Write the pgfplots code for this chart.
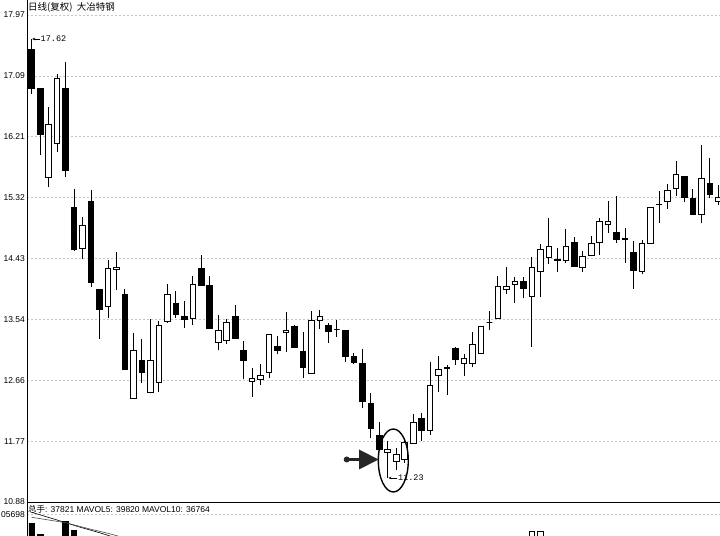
\documentclass[border=0pt]{standalone}
\usepackage{pgfplots}
\pgfplotsset{compat=1.18}
\usepackage{pgfplotstable}
\usepackage{fontspec}
\setmainfont{Liberation Sans}
\newfontfamily\cjk{Noto Sans CJK SC}
\newfontfamily\mono{Liberation Mono}
\usetikzlibrary{arrows.meta}
\pgfdeclareplotmark{nothing}{}
\pgfplotsset{
  candle/.style={
    scatter, only marks, mark=nothing, clip marker paths=true,
    visualization depends on={\thisrow{h}-\thisrow{o} \as \candH},
    visualization depends on={\thisrow{l}-\thisrow{o} \as \candL},
    visualization depends on={\thisrow{c}-\thisrow{o} \as \candC},
    scatter/@pre marker code/.code={%
      \draw[black, line width=0.9bp] (axis direction cs:0,\candL) -- (axis direction cs:0,\candH);
      \filldraw[fill=#1, draw=black, line width=0.9bp] (axis direction cs:-0.33,0) rectangle (axis direction cs:0.33,\candC);
    },
    scatter/@post marker code/.code={},
  },
}
% bearish (black) candles: index open high low close
\pgfplotstableread{
i o h l c
1 17.47 17.62 16.82 16.905
2 16.895 16.895 15.93 16.225
5 16.905 17.285 15.607 15.704
6 15.17 15.437 14.537 14.561
8 15.252 15.427 14.017 14.075
9 13.978 13.978 13.258 13.676
12 13.895 13.978 12.81 12.81
14 12.947 13.258 12.606 12.772
18 13.773 13.953 13.564 13.613
19 13.588 13.807 13.418 13.54
21 14.279 14.474 14.026 14.026
22 14.036 14.172 13.409 13.409
25 13.574 13.744 13.263 13.263
26 13.093 13.224 12.665 12.947
30 13.151 13.297 13.03 13.093
32 13.433 13.452 13.137 13.137
33 13.068 13.355 12.68 12.845
36 13.443 13.491 13.2 13.36
37 13.394 13.53 13.287 13.394
38 13.38 13.38 12.917 12.995
39 13.005 13.044 12.883 12.908
40 12.898 13.102 12.251 12.339
41 12.315 12.46 11.814 11.95
42 11.848 12.047 11.643 11.643
47 12.1 12.169 11.77 11.916
50 12.84 12.874 12.436 12.83
51 13.122 13.132 12.874 12.961
55 13.496 13.666 13.389 13.496
59 14.094 14.153 13.846 13.992
63 14.41 14.581 14.226 14.395
65 14.663 14.741 14.313 14.313
70 14.81 15.335 14.654 14.702
71 14.717 14.873 14.362 14.698
72 14.508 14.678 13.983 14.25
75 15.213 15.408 14.946 15.213
78 15.626 15.626 15.247 15.31
79 15.296 15.432 15.067 15.067
81 15.515 15.884 15.31 15.359
}\bear
% bullish (white) candles
\pgfplotstableread{
i o h l c
3 15.607 16.63 15.46 16.375
4 16.093 17.114 15.97 17.05
7 14.571 15.023 14.415 14.902
10 13.72 14.401 13.564 14.279
11 14.27 14.52 13.97 14.295
13 12.382 13.345 12.382 13.093
15 12.48 13.55 12.46 12.947
16 12.616 13.515 12.48 13.443
17 13.501 14.06 13.49 13.905
20 13.55 14.163 13.453 14.046
23 13.209 13.603 13.088 13.38
24 13.234 13.55 13.175 13.5
27 12.63 12.835 12.412 12.679
28 12.665 12.893 12.577 12.723
29 12.772 13.321 12.689 13.316
31 13.345 13.652 13.068 13.38
34 12.747 13.662 12.747 13.53
35 13.525 13.672 13.394 13.574
43 11.598 11.763 11.23 11.646
44 11.472 11.667 11.342 11.574
45 11.497 11.777 11.453 11.743
46 11.731 12.159 11.731 12.037
48 11.916 12.922 11.853 12.572
49 12.718 13.0 12.475 12.806
52 12.903 13.034 12.709 12.971
53 12.903 13.35 12.84 13.17
54 13.044 13.448 13.044 13.438
56 13.555 14.167 13.555 14.017
57 13.973 14.299 13.91 14.017
58 14.046 14.153 13.778 14.09
60 13.871 14.445 13.141 14.3
61 14.24 14.64 13.86 14.556
62 14.435 15.018 14.338 14.605
64 14.396 14.848 14.362 14.605
66 14.289 14.532 14.231 14.45
67 14.469 14.751 14.459 14.644
68 14.654 15.018 14.474 14.96
69 14.921 15.262 14.8 14.97
73 14.24 14.688 14.192 14.639
74 14.639 15.179 14.639 15.164
76 15.252 15.515 15.15 15.417
77 15.442 15.845 15.335 15.651
80 15.067 16.074 14.936 15.587
82 15.262 15.49 15.198 15.31
}\bull
\begin{document}
\begin{tikzpicture}[x=1bp,y=1bp]
\useasboundingbox (0,0) rectangle (720,536);
\begin{axis}[
  at={(27bp,34bp)}, anchor=south west,
  width=693bp, height=502bp, scale only axis,
  xmin=0.4456, xmax=82.196, ymin=10.88, ymax=18.188,
  axis x line*=bottom, axis y line*=left,
  axis line style={line width=0.8bp, black},
  xtick=\empty,
  ytick={10.88,11.76625,12.6525,13.53875,14.425,15.31125,16.1975,17.08375,17.97},
  yticklabels={10.88,11.77,12.66,13.54,14.43,15.32,16.21,17.09,17.97},
  major tick length=0pt,
  yticklabel style={font=\fontsize{8.5bp}{10bp}\selectfont, anchor=east, inner sep=0pt, xshift=-2bp},
  ymajorgrids, grid style={gray!45, line width=0.6bp, dash pattern=on 2bp off 2bp},
  clip marker paths=true,
]
\addplot[candle=black] table[x=i, y=o] {\bear};
\addplot[candle=white] table[x=i, y=o] {\bull};
\draw[line width=0.6bp, -{Stealth[length=3bp,width=2.6bp]}] (axis cs:1.98,17.62) -- (axis cs:1.06,17.62);
\node[anchor=west, inner sep=0.5bp, font={\mono\fontsize{8.5bp}{10bp}\selectfont}] at (axis cs:1.98,17.62) {17.62};
\draw[line width=0.6bp, -{Stealth[length=3bp,width=2.6bp]}] (axis cs:44.15,11.23) -- (axis cs:43.08,11.23);
\node[anchor=west, inner sep=0.5bp, font={\mono\fontsize{8.5bp}{10bp}\selectfont}] at (axis cs:44.15,11.23) {11.23};
\end{axis}
\begin{axis}[
  at={(27bp,0bp)}, anchor=south west,
  width=693bp, height=34bp, scale only axis,
  xmin=0.4456, xmax=82.196, ymin=40000, ymax=143894,
  axis x line=none, axis y line*=left,
  axis line style={line width=0.8bp, black},
  ytick={105698}, yticklabels={05698},
  major tick length=0pt, scaled y ticks=false,
  yticklabel style={font=\fontsize{8.5bp}{10bp}\selectfont, anchor=east, inner sep=0pt, xshift=-2bp},
  ymajorgrids, grid style={gray!45, line width=0.6bp, dash pattern=on 2bp off 2bp},
]
\addplot[ybar, bar width=5.6bp, bar shift=0pt, fill=black, draw=black, line width=0.8bp] coordinates {(1,79700) (2,46100) (5,83700) (6,56200)};
\addplot[ybar, bar width=5.6bp, bar shift=0pt, fill=white, draw=black, line width=0.8bp] coordinates {(60,55300) (61,53800)};
\addplot[black, line width=0.6bp, mark=none] coordinates {(1,112420) (4,88890) (6.5,68420) (9,50080) (11,33890)};
\addplot[black!70, line width=0.6bp, mark=none] coordinates {(1,97140) (5,80640) (8,60470) (10,48250) (12,33890)};
\end{axis}
% panel captions
\node[anchor=west, inner sep=0pt, font={\cjk\fontsize{9.5bp}{11bp}\selectfont}] at (28,528.5) {日线(复权)\ \ 大冶特钢};
\node[anchor=west, inner sep=0pt, font={\fontsize{8.5bp}{10bp}\selectfont}] at (28,26.5) {{\cjk 总手}: 37821 MAVOL5: 39820 MAVOL10: 36764};
% highlight of the lowest candles
\draw[line width=1.4bp] (393.3,75.5) ellipse [x radius=15, y radius=31.5];
\fill[black!85] (346.7,76.5) circle [radius=3];
\draw[black!85, line width=2.2bp] (346.7,76.5) -- (361,76.5);
\fill[black!85] (359,86.5) -- (378.5,76.5) -- (359,66.5) -- cycle;
\end{tikzpicture}
\end{document}
